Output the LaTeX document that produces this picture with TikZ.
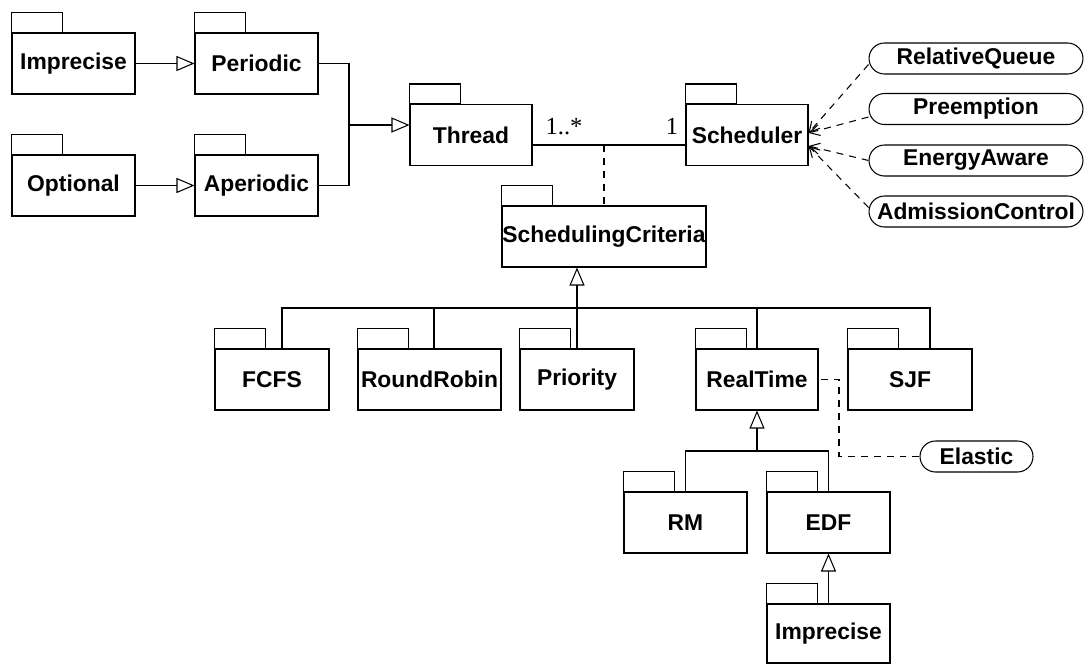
\documentclass[tikz,border=0pt]{standalone}
\usepackage{fontspec}
\setmainfont{Liberation Sans}
\newfontfamily\multfont{Liberation Serif}
\usetikzlibrary{arrows.meta}

\tikzset{
  pkg/.style={draw, inner sep=0pt, minimum width=2.46cm, minimum height=1.22cm,
    font=\bfseries\fontsize{13}{15}\selectfont},
  note/.style={draw, rounded corners=0.31cm, inner sep=0pt, minimum width=4.28cm,
    minimum height=0.62cm, font=\bfseries\fontsize{13}{15}\selectfont},
  mult/.style={inner sep=0pt, font=\multfont\fontsize{14}{16}\selectfont},
  inherit/.style={-{Triangle[open, length=0.36cm, width=0.3cm]}},
  dashline/.style={dash pattern=on 0.14cm off 0.12cm},
  dep/.style={dashline, -{Straight Barb[length=0.2cm, width=0.22cm]}}
}

\begin{document}
\begin{tikzpicture}[x=0.02cm, y=-0.02cm, line width=0.6pt]
    \useasboundingbox (0,0) rectangle (1085,663);

    % thread kinds
    \node[pkg] (imp) at (73.5,63.5) {Imprecise};
    \node[pkg] (periodic) at (256.5,63.5) {Periodic};
    \node[pkg] (optional) at (73.5,185.5) {Optional};
    \node[pkg] (aperiodic) at (256.5,185.5) {Aperiodic};

    \node[pkg, minimum width=2.44cm] (thread) at (471,135) {Thread};
    \node[pkg, minimum width=2.44cm] (scheduler) at (747,135) {Scheduler};
    \node[pkg, minimum width=4.08cm] (criteria) at (604,236.5) {SchedulingCriteria};

    % criteria
    \node[pkg, minimum width=2.28cm] (fcfs) at (272,379.5) {FCFS};
    \node[pkg, minimum width=2.86cm] (rr) at (429.5,379.5) {RoundRobin};
    \node[pkg, minimum width=2.28cm] (priority) at (577,379.5) {Priority};
    \node[pkg, minimum width=2.44cm] (realtime) at (757,379.5) {RealTime};
    \node[pkg, minimum width=2.48cm] (sjf) at (910,379.5) {SJF};

    \node[pkg] (rm) at (685.5,522.5) {RM};
    \node[pkg] (edf) at (828.5,522.5) {EDF};
    \node[pkg, minimum height=1.18cm] (imp2) at (828.5,633.5) {Imprecise};

    % tabs
    \foreach \n in {imp,periodic,optional,aperiodic,thread,scheduler,criteria,
                    fcfs,rr,priority,realtime,sjf,rm,edf,imp2}
        \draw (\n.north west) rectangle ++(51,-20);

    % features
    \node[note] (queue) at (976,58.5) {RelativeQueue};
    \node[note] (preempt) at (976,109) {Preemption};
    \node[note] (energy) at (976,160.5) {EnergyAware};
    \node[note] (admission) at (976,211.5) {AdmissionControl};
    \node[note, minimum width=2.26cm] (elastic) at (976.5,456.5) {Elastic};

    % generalisations
    \draw[inherit] (imp) -- (periodic);
    \draw[inherit] (optional) -- (aperiodic);
    \coordinate (join) at (349,125);
    \draw (periodic.east) -| (join) |- (aperiodic.east);
    \draw[inherit] (join) -- (join -| thread.west);

    % association
    \coordinate (assoc) at (604,145);
    \draw (assoc -| thread.east) -- (assoc -| scheduler.west);
    \node[mult, anchor=base] (many) at (564,134) {1..*};
    \node[mult, anchor=base] (one) at (672,134) {1};
    \draw[dashline] (assoc) -- (criteria.north);

    \coordinate (bus) at (577,308);
    \coordinate (fcfs-up) at ([xshift=0.2cm]fcfs.north);
    \coordinate (rr-up) at ([xshift=0.09cm]rr.north);
    \coordinate (sjf-up) at ([xshift=0.4cm]sjf.north);
    \draw (fcfs-up) -- (fcfs-up |- bus) -- (sjf-up |- bus) -- (sjf-up);
    \draw (rr-up) -- (rr-up |- bus);
    \draw (realtime.north) -- (realtime.north |- bus);
    \draw[inherit] (priority.north) -- (priority.north |- criteria.south);

    \coordinate (bus2) at (757,451);
    \draw (rm.north) -- (rm.north |- bus2) -- (edf.north |- bus2) -- (edf.north);
    \draw[inherit] (bus2) -- (realtime.south);
    \draw[inherit] (imp2.north) -- (edf.south);

    % dependencies
    \coordinate (sch-hi) at ([yshift=0.04cm]scheduler.east);
    \coordinate (sch-lo) at ([yshift=-0.22cm]scheduler.east);
    \draw[dep] ([yshift=-0.12cm]queue.west) -- (sch-hi);
    \draw[dep] ([yshift=-0.16cm]preempt.west) -- (sch-hi);
    \draw[dep] (energy.west) -- (sch-lo);
    \draw[dep] ([yshift=0.08cm]admission.west) -- (sch-lo);

    \coordinate (bend) at (839,0);
    \draw[dashline] (elastic.west) -| (bend |- realtime.east) -- (realtime.east);
\end{tikzpicture}
\end{document}
